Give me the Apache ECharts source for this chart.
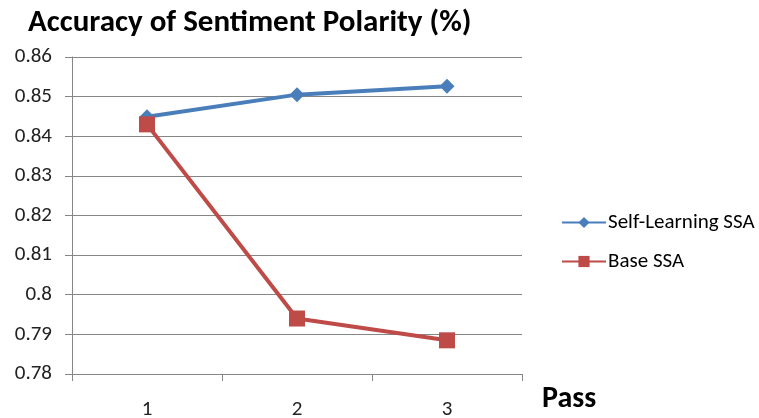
<!DOCTYPE html>
<html>
<head>
<meta charset="utf-8">
<script src="https://cdn.jsdelivr.net/npm/echarts@6/dist/echarts.min.js"></script>
<style>
  html, body { margin: 0; padding: 0; background: #fff; }
  #chart { width: 759px; height: 418px; }
</style>
</head>
<body>
<div id="chart"></div>
<script>
// Pass numbers on the x axis
const passes = ['1', '2', '3'];
// Sentiment polarity accuracy per pass
const selfLearning = [0.8449, 0.8505, 0.8526];
const baseSSA = [0.8430, 0.7940, 0.7885];
// Value axis range
const yMin = 0.78, yMax = 0.86, yStep = 0.01;

const axisGray = '#868686';
const font = 'Calibri, Carlito, "Open Sans", "Liberation Sans", sans-serif';

const chart = echarts.init(document.getElementById('chart'), null, { renderer: 'canvas' });
chart.setOption({
  animation: false,
  backgroundColor: '#ffffff',
  title: {
    text: 'Accuracy of Sentiment Polarity (%)',
    left: 23, top: 3,
    textStyle: { fontFamily: font, fontSize: 31, fontWeight: 'bold', color: '#000' }
  },
  grid: { left: 72, right: 237, top: 57, bottom: 44, containLabel: false, outerBoundsMode: 'none' },
  legend: {
    orient: 'vertical',
    left: 556, top: 207,
    itemGap: 18,
    itemWidth: 44, itemHeight: 14,
    textStyle: { fontFamily: font, fontSize: 21, color: '#000', padding: [0, 0, 0, -3] },
    data: ['Self-Learning SSA', 'Base SSA']
  },
  xAxis: {
    type: 'category',
    data: passes,
    boundaryGap: true,
    name: 'Pass',
    nameLocation: 'end',
    nameGap: 20,
    nameTextStyle: { fontFamily: font, fontSize: 30, fontWeight: 'bold', color: '#000', verticalAlign: 'top', padding: [10, 0, 0, 0] },
    axisLine: { lineStyle: { color: axisGray, width: 1 } },
    axisTick: { show: true, alignWithLabel: false, length: 7, lineStyle: { color: axisGray } },
    axisLabel: { fontFamily: font, fontSize: 21, color: '#222', margin: 25 },
    splitLine: { show: false }
  },
  yAxis: {
    type: 'value',
    min: yMin, max: yMax, interval: yStep,
    axisLine: { show: true, lineStyle: { color: axisGray, width: 1 } },
    axisTick: { show: true, length: 7, lineStyle: { color: axisGray } },
    axisLabel: {
      fontFamily: font, fontSize: 21, color: '#222', margin: 20,
      formatter: v => String(parseFloat(v.toFixed(2)))
    },
    splitLine: { show: true, lineStyle: { color: axisGray, width: 1 } }
  },
  series: [
    {
      name: 'Self-Learning SSA',
      type: 'line',
      data: selfLearning,
      symbol: 'diamond',
      symbolSize: 15,
      lineStyle: { color: '#4a7ebb', width: 4 },
      itemStyle: { color: '#4a7ebb' },
      z: 2
    },
    {
      name: 'Base SSA',
      type: 'line',
      data: baseSSA,
      symbol: 'rect',
      symbolSize: 16,
      lineStyle: { color: '#be4b48', width: 4 },
      itemStyle: { color: '#be4b48' },
      z: 3
    }
  ]
});
</script>
</body>
</html>
